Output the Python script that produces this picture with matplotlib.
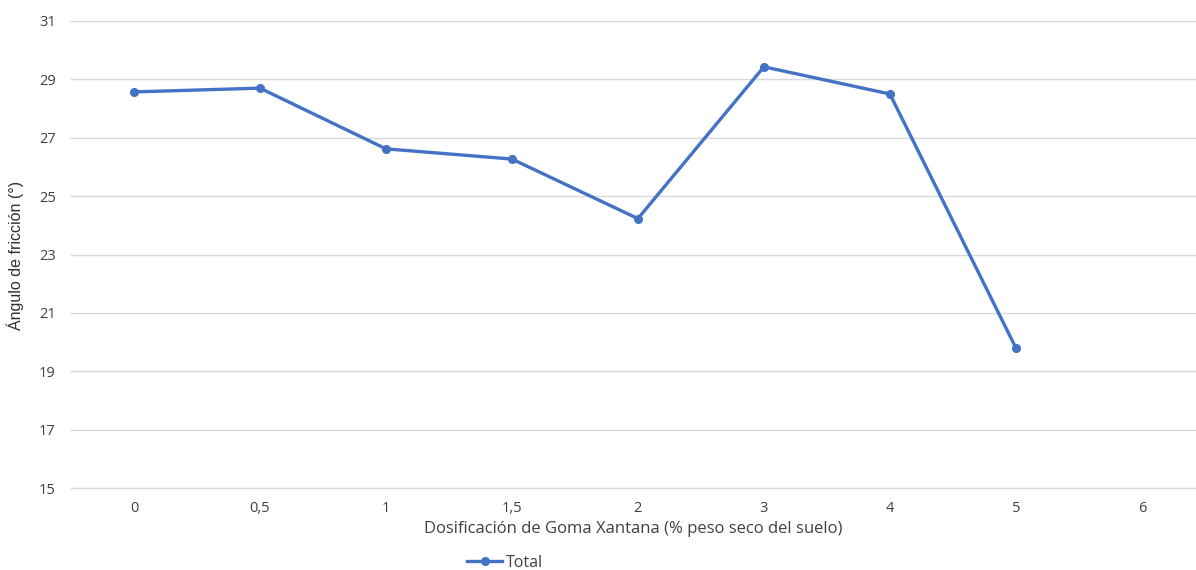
import matplotlib
matplotlib.use("Agg")
import matplotlib.pyplot as plt
import numpy as np

categories = ["0", "0,5", "1", "1,5", "2", "3", "4", "5", "6"]
values = [28.57, 28.70, 26.62, 26.27, 24.23, 29.43, 28.50, 19.80, np.nan]
y_ticks = [15, 17, 19, 21, 23, 25, 27, 29, 31]

plt.rcParams['font.family'] = ['Open Sans', 'DejaVu Sans']

fig = plt.figure(figsize=(11.96, 5.70), dpi=100)
ax = fig.add_axes([71/1196, 82/570, 1 - 71/1196, (488-21)/570])

x = np.arange(len(categories))
ax.plot(x, values, color="#4472C4", linewidth=2.4, marker="o", markersize=5.5,
        label="Total", solid_joinstyle="round")

ax.set_xlim(-0.5, 8.43)
ax.set_ylim(15, 31)
ax.set_yticks(y_ticks)
ax.set_xticks(x)
ax.set_xticklabels(categories)
ax.grid(axis="y", color="#D9D9D9", linewidth=1.0)
for gl in ax.get_ygridlines():
    gl.set_clip_on(False)
ax.set_axisbelow(True)
for s in ax.spines.values():
    s.set_visible(False)
ax.tick_params(axis="both", length=0, labelsize=10.5, colors="#404040")
ax.tick_params(axis="y", pad=11)
ax.tick_params(axis="x", pad=9)

ax.set_xlabel("Dosificación de Goma Xantana (% peso seco del suelo)", fontsize=12,
              color="#404040", labelpad=4)
fig.text(15/1196, 1 - 255/570, "Ángulo de fricción (°)", rotation=90, fontsize=11.5,
         color="#303030", ha="center", va="center", family=['Liberation Sans Narrow', 'Liberation Sans', 'DejaVu Sans'])

leg = fig.legend(loc="center", bbox_to_anchor=(505/1196, 1 - 563/570), frameon=False,
                 fontsize=11.5, handlelength=2.2, handletextpad=0.2)
for t in leg.get_texts():
    t.set_color("#404040")

fig.savefig("out.png", dpi=100)
